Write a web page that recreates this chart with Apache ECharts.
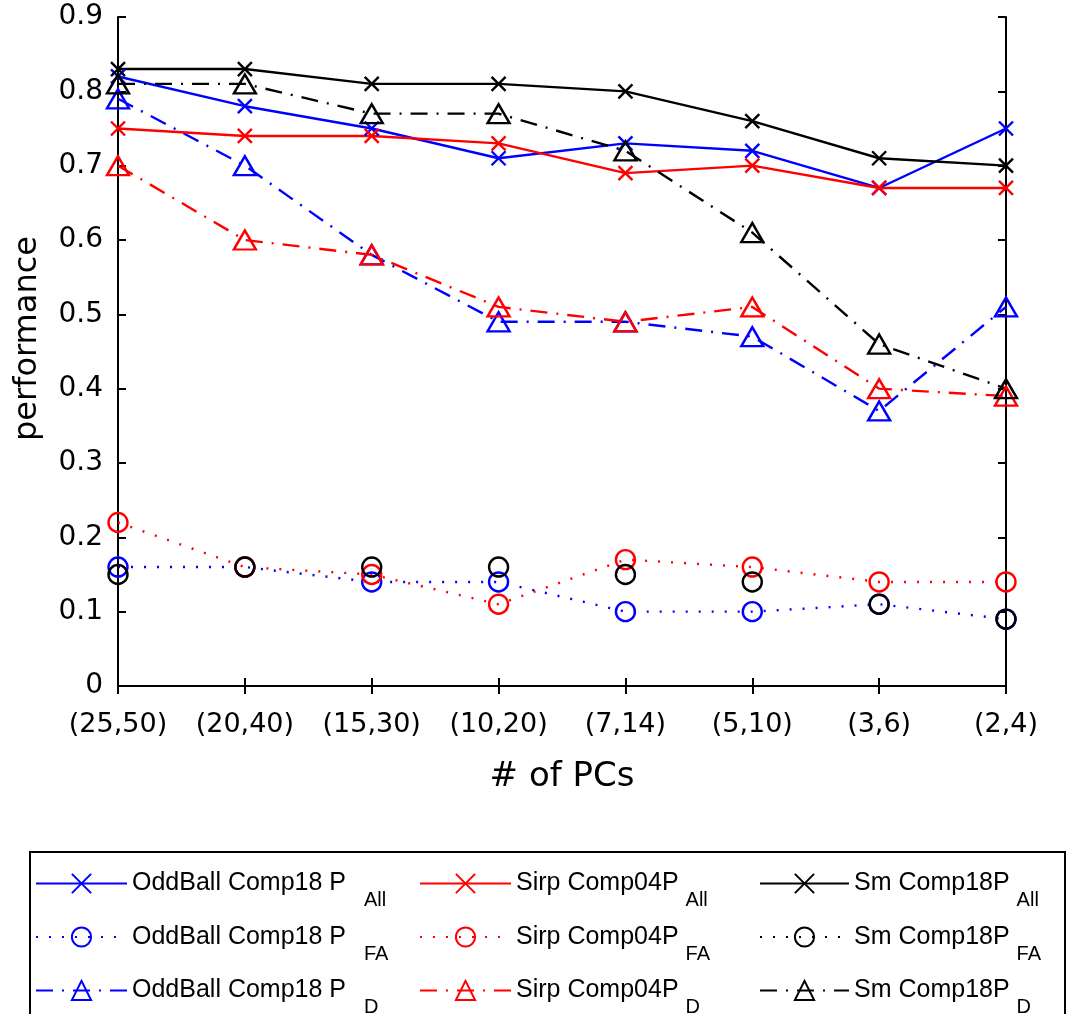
<!DOCTYPE html>
<html>
<head>
<meta charset="utf-8">
<script src="https://cdn.jsdelivr.net/npm/echarts@6/dist/echarts.min.js"></script>
<style>
  html, body { margin: 0; padding: 0; background: #fff; }
  #main { width: 1071px; height: 1014px; }
</style>
</head>
<body>
<div id="main"></div>
<script>
// categories: number of PCs
var categories = ["(25,50)", "(20,40)", "(15,30)", "(10,20)", "(7,14)", "(5,10)", "(3,6)", "(2,4)"];

// OddBall Comp18
var oddAll = [0.82, 0.78, 0.75, 0.71, 0.73, 0.72, 0.67, 0.75];
var oddFA  = [0.16, 0.16, 0.14, 0.14, 0.10, 0.10, 0.11, 0.09];
var oddD   = [0.79, 0.70, 0.58, 0.49, 0.49, 0.47, 0.37, 0.51];
// Sirp Comp04
var sirpAll = [0.75, 0.74, 0.74, 0.73, 0.69, 0.70, 0.67, 0.67];
var sirpFA  = [0.22, 0.16, 0.15, 0.11, 0.17, 0.16, 0.14, 0.14];
var sirpD   = [0.70, 0.60, 0.58, 0.51, 0.49, 0.51, 0.40, 0.39];
// Sm Comp18
var smAll = [0.83, 0.83, 0.81, 0.81, 0.80, 0.76, 0.71, 0.70];
var smFA  = [0.15, 0.16, 0.16, 0.16, 0.15, 0.14, 0.11, 0.09];
var smD   = [0.81, 0.81, 0.77, 0.77, 0.72, 0.61, 0.46, 0.40];

var yTicks = [0, 0.1, 0.2, 0.3, 0.4, 0.5, 0.6, 0.7, 0.8, 0.9];

var BLUE = "#0000ff", RED = "#ff0000", BLACK = "#000000";
var xMark = "path://M0,0L10,10M10,0L0,10";
var dotted = [2, 11];
var dashDot = [17, 9, 2, 9];

// legend label parts: base text + subscript
var labels = {
  "oddAll": ["OddBall Comp18 P", "All", "s1"],
  "oddFA":  ["OddBall Comp18 P", "FA", "s1"],
  "oddD":   ["OddBall Comp18 P", "D", "s1"],
  "sirpAll": ["Sirp Comp04P", "All", "s"],
  "sirpFA":  ["Sirp Comp04P", "FA", "s"],
  "sirpD":   ["Sirp Comp04P", "D", "s"],
  "smAll": ["Sm Comp18P", "All", "s"],
  "smFA":  ["Sm Comp18P", "FA", "s"],
  "smD":   ["Sm Comp18P", "D", "s"]
};

function mk(name, data, color, kind, dash, showLine) {
  var sym, size;
  if (kind === "x") { sym = xMark; size = 14; }
  else if (kind === "o") { sym = "circle"; size = 19; }
  else { sym = "triangle"; size = [22, 19]; }
  return {
    name: name,
    type: "line",
    data: data,
    symbol: sym,
    symbolSize: size,
    showAllSymbol: true,
    lineStyle: { color: color, width: 2.4, type: dash, opacity: showLine === false ? 0 : 1 },
    itemStyle: { color: "rgba(0,0,0,0)", borderColor: color, borderWidth: 2.4 },
    emphasis: { disabled: true },
    animation: false,
    z: 3
  };
}

var richText = {
  m: { fontFamily: "Liberation Sans", fontSize: 25, lineHeight: 54, color: "#000" },
  s1: { fontFamily: "Liberation Sans", fontSize: 20, lineHeight: 20, verticalAlign: "bottom", padding: [0, 0, 0, 18], color: "#000" },
  s: { fontFamily: "Liberation Sans", fontSize: 20, lineHeight: 20, verticalAlign: "bottom", padding: [0, 0, 0, 7], color: "#000" }
};

function legendFmt(name) {
  var p = labels[name];
  return "{m|" + p[0] + "}{" + p[2] + "|" + p[1] + "}";
}

function legendCol(left, width, names) {
  return {
    orient: "vertical",
    left: left,
    top: 871,
    height: 220,
    padding: 0,
    itemGap: 14,
    itemWidth: width,
    itemHeight: 24,
    selectedMode: false,
    data: names.map(function (n) {
      if (n === "smFA") return { name: n, lineStyle: { opacity: 1, width: 2, type: dotted, color: BLACK } };
      return n;
    }),
    formatter: legendFmt,
    textStyle: { rich: richText }
  };
}

var chart = echarts.init(document.getElementById("main"));
chart.setOption({
  backgroundColor: "#fff",
  animation: false,
  grid: { left: 118, right: 65, top: 17, bottom: 328, containLabel: false },
  xAxis: [
    {
      type: "category",
      data: categories,
      boundaryGap: false,
      name: "# of PCs",
      nameLocation: "middle",
      nameGap: 74,
      nameTextStyle: { fontFamily: "DejaVu Sans", fontSize: 34, color: "#000" },
      axisLine: { lineStyle: { color: "#000", width: 2 } },
      axisTick: { inside: true, length: 8, interval: 0, lineStyle: { color: "#000", width: 2 } },
      axisLabel: { fontFamily: "DejaVu Sans", fontSize: 27, color: "#000", margin: 25, interval: 0 },
      splitLine: { show: false }
    },
    {
      type: "category",
      data: categories,
      boundaryGap: false,
      position: "top",
      axisLine: { lineStyle: { color: "#000", width: 2 } },
      axisTick: { inside: true, length: 8, interval: 0, lineStyle: { color: "#000", width: 2 } },
      axisLabel: { show: false },
      splitLine: { show: false }
    }
  ],
  yAxis: [
    {
      type: "value",
      min: 0,
      max: 0.9,
      interval: 0.1,
      name: "performance",
      nameLocation: "middle",
      nameGap: 74,
      nameTextStyle: { fontFamily: "DejaVu Sans", fontSize: 32, color: "#000", padding: [0, 0, 0, 26] },
      axisLine: { show: true, lineStyle: { color: "#000", width: 2 } },
      axisTick: { show: true, inside: true, length: 8, lineStyle: { color: "#000", width: 2 } },
      axisLabel: {
        fontFamily: "DejaVu Sans", fontSize: 28, color: "#000", margin: 15,
        formatter: function (v) {
          var t = yTicks.find(function (k) { return Math.abs(k - v) < 1e-6; });
          return t === 0 ? "0" : (t !== undefined ? t.toFixed(1) : v.toFixed(1));
        }
      },
      splitLine: { show: false }
    },
    {
      type: "value",
      min: 0,
      max: 0.9,
      interval: 0.1,
      position: "right",
      axisLine: { show: true, lineStyle: { color: "#000", width: 2 } },
      axisTick: { show: true, inside: true, length: 8, lineStyle: { color: "#000", width: 2 } },
      axisLabel: { show: false },
      splitLine: { show: false }
    }
  ],
  legend: [
    legendCol(35, 91, ["oddAll", "oddFA", "oddD"]),
    legendCol(419, 91, ["sirpAll", "sirpFA", "sirpD"]),
    legendCol(759, 89, ["smAll", "smFA", "smD"])
  ],
  graphic: [
    {
      type: "rect",
      shape: { x: 30, y: 852, width: 1035, height: 200 },
      style: { fill: "none", stroke: "#000", lineWidth: 2 },
      silent: true
    }
  ],
  series: [
    mk("oddAll", oddAll, BLUE, "x", "solid"),
    mk("oddFA", oddFA, BLUE, "o", dotted),
    mk("oddD", oddD, BLUE, "t", dashDot),
    mk("sirpAll", sirpAll, RED, "x", "solid"),
    mk("sirpFA", sirpFA, RED, "o", dotted),
    mk("sirpD", sirpD, RED, "t", dashDot),
    mk("smAll", smAll, BLACK, "x", "solid"),
    mk("smFA", smFA, BLACK, "o", dotted, false),
    mk("smD", smD, BLACK, "t", dashDot)
  ]
});
</script>
</body>
</html>
